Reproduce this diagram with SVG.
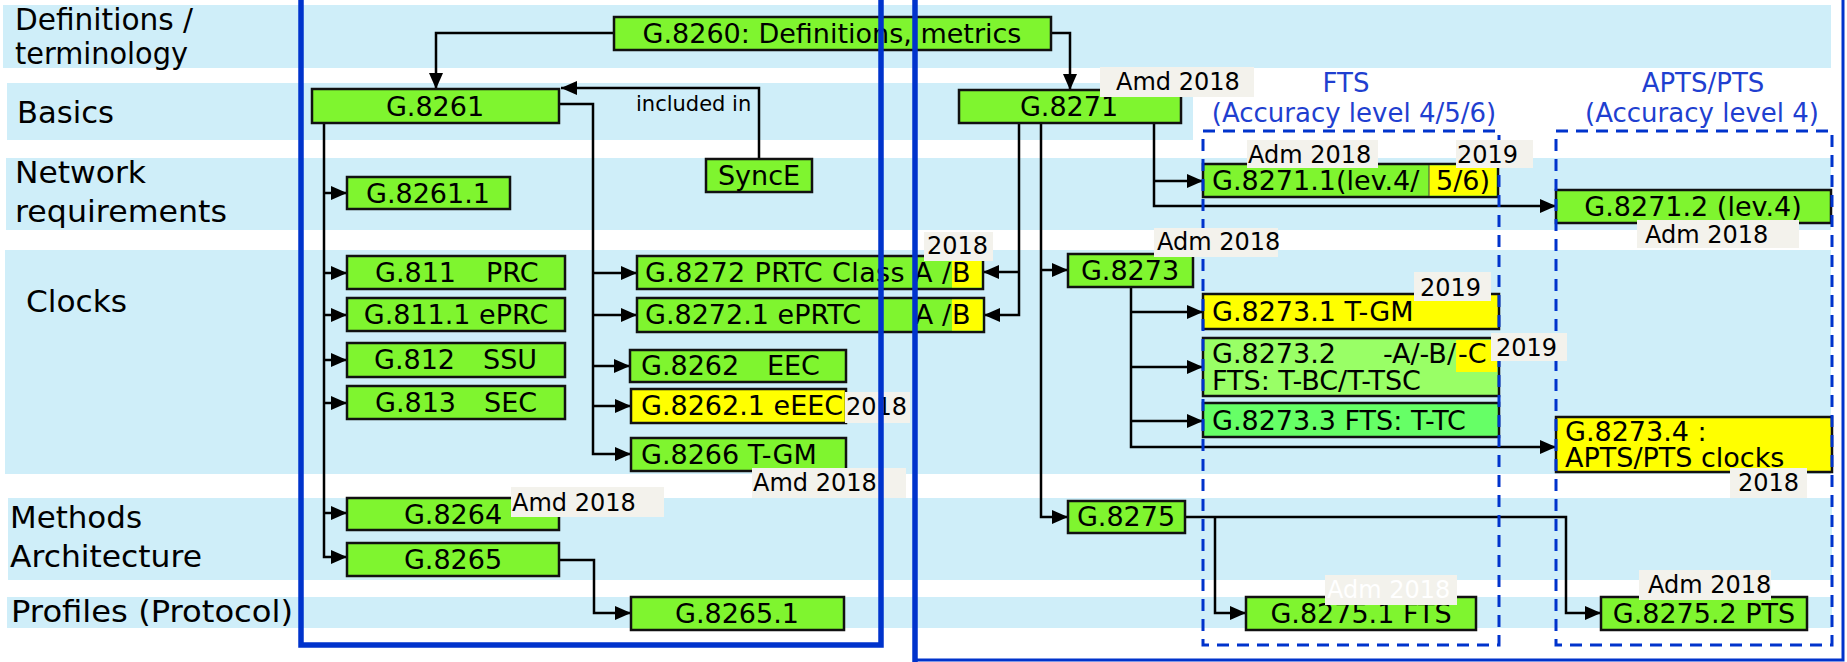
<svg xmlns="http://www.w3.org/2000/svg" width="1847" height="662" viewBox="0 0 1847 662">
<defs>
<style>
.band{fill:#CFEEF9}
.row{font-family:"DejaVu Sans","Liberation Sans",sans-serif;font-size:30px;fill:#000}
.bx{stroke:#111;stroke-width:2.5}
.g{fill:#7FF52F}
.y{fill:#FFFF00}
.lg{fill:#99FF66}
.mg{fill:#66FF66}
.t{font-family:"DejaVu Sans","Liberation Sans",sans-serif;font-size:27px;fill:#000}
.c{text-anchor:middle}
.e{text-anchor:end}
.lb{fill:#F3F2EC}
.lt{font-family:"DejaVu Sans","Liberation Sans",sans-serif;font-size:24px;fill:#000}
.hd{font-family:"DejaVu Sans","Liberation Sans",sans-serif;font-size:26px;fill:#1F3FD0;text-anchor:middle}
.cn{fill:none;stroke:#000;stroke-width:2.5}
.ar{marker-end:url(#arr)}
.pl{fill:none;stroke:#0033CC}
.ds{fill:none;stroke:#0033CC;stroke-width:3;stroke-dasharray:12 8}
</style>
<marker id="arr" markerUnits="userSpaceOnUse" markerWidth="16" markerHeight="14" refX="16" refY="7" orient="auto">
<path d="M0,0 L16,7 L0,14 Z" fill="#000"/>
</marker>
</defs>
<g id="bands">
<rect class="band" x="3" y="5" width="1828" height="63"/>
<rect class="band" x="7" y="83" width="1186" height="57"/>
<rect class="band" x="6" y="158" width="1825" height="72"/>
<rect class="band" x="5" y="250" width="1826" height="224"/>
<rect class="band" x="8" y="498" width="1824" height="82"/>
<rect class="band" x="7" y="597" width="1825" height="31"/>
</g>
<g id="row-labels">
<text class="row" x="15" y="30" textLength="178" lengthAdjust="spacingAndGlyphs">Definitions /</text>
<text class="row" x="15" y="64" textLength="173" lengthAdjust="spacingAndGlyphs">terminology</text>
<text class="row" x="17" y="123" textLength="97" lengthAdjust="spacingAndGlyphs">Basics</text>
<text class="row" x="15" y="183" textLength="131" lengthAdjust="spacingAndGlyphs">Network</text>
<text class="row" x="15" y="222" textLength="212" lengthAdjust="spacingAndGlyphs">requirements</text>
<text class="row" x="26" y="312" textLength="101" lengthAdjust="spacingAndGlyphs">Clocks</text>
<text class="row" x="10" y="528" textLength="132" lengthAdjust="spacingAndGlyphs">Methods</text>
<text class="row" x="10" y="567" textLength="192" lengthAdjust="spacingAndGlyphs">Architecture</text>
<text class="row" x="11" y="622" textLength="282" lengthAdjust="spacingAndGlyphs">Profiles (Protocol)</text>
</g>
<g id="headings">
<text class="hd" x="1346" y="92">FTS</text>
<text class="hd" x="1354" y="122">(Accuracy level 4/5/6)</text>
<text class="hd" x="1703" y="92">APTS/PTS</text>
<text class="hd" x="1702" y="122">(Accuracy level 4)</text>
</g>
<g id="connectors">
<path class="cn ar" d="M614,33 H436 V89"/>
<path class="cn ar" d="M1051,33 H1070 V90"/>
<path class="cn ar" d="M759,159 V88 H561"/>
<text class="lt" style="font-size:21px" x="636" y="111">included in</text>
<path class="cn ar" d="M324,123 V557 H347"/>
<path class="cn ar" d="M324,193 H347"/>
<path class="cn ar" d="M324,273 H347"/>
<path class="cn ar" d="M324,315 H347"/>
<path class="cn ar" d="M324,360 H347"/>
<path class="cn ar" d="M324,403 H347"/>
<path class="cn ar" d="M324,513 H347"/>
<path class="cn ar" d="M559,104 H593 V454 H631"/>
<path class="cn ar" d="M593,273 H637"/>
<path class="cn ar" d="M593,315 H637"/>
<path class="cn ar" d="M593,366 H630"/>
<path class="cn ar" d="M593,406 H631"/>
<path class="cn ar" d="M559,560 H594 V613 H631"/>
<path class="cn ar" d="M1019,123 V315 H984"/>
<path class="cn ar" d="M1019,272 H983"/>
<path class="cn ar" d="M1041,123 V517 H1068"/>
<path class="cn ar" d="M1041,270 H1068"/>
<path class="cn ar" d="M1154,123 V206 H1556"/>
<path class="cn ar" d="M1154,181 H1203"/>
<path class="cn ar" d="M1131,287 V447 H1556"/>
<path class="cn ar" d="M1131,312 H1203"/>
<path class="cn ar" d="M1131,367 H1203"/>
<path class="cn ar" d="M1131,421 H1203"/>
<path class="cn ar" d="M1185,517 H1566 V613 H1601"/>
<path class="cn ar" d="M1215,517 V613 H1246"/>
</g>
<g id="n-g8260"><rect class="bx g" x="614" y="17" width="437" height="33"/><text class="t c" x="832" y="43">G.8260: Definitions, metrics</text></g>
<g id="n-g8261"><rect class="bx g" x="312" y="89" width="247" height="34"/><text class="t c" x="435" y="116">G.8261</text></g>
<g id="n-synce"><rect class="bx g" x="706" y="159" width="106" height="33"/><text class="t c" x="759" y="185">SyncE</text></g>
<g id="n-g82611"><rect class="bx g" x="347" y="177" width="163" height="32"/><text class="t c" x="428" y="203">G.8261.1</text></g>
<g id="n-g811"><rect class="bx g" x="347" y="256" width="218" height="33"/><text class="t" x="375" y="282">G.811</text><text class="t" x="486" y="282">PRC</text></g>
<g id="n-g8111"><rect class="bx g" x="347" y="298" width="218" height="33"/><text class="t c" x="456" y="324">G.811.1 ePRC</text></g>
<g id="n-g812"><rect class="bx g" x="347" y="343" width="218" height="34"/><text class="t" x="374" y="369">G.812</text><text class="t" x="483" y="369">SSU</text></g>
<g id="n-g813"><rect class="bx g" x="347" y="386" width="218" height="33"/><text class="t" x="375" y="412">G.813</text><text class="t" x="484" y="412">SEC</text></g>
<g id="n-g8264"><rect class="bx g" x="347" y="498" width="212" height="32"/><text class="t c" x="453" y="524">G.8264</text></g>
<g id="n-g8265"><rect class="bx g" x="347" y="543" width="212" height="33"/><text class="t c" x="453" y="569">G.8265</text></g>
<g id="n-g82651"><rect class="bx g" x="631" y="597" width="213" height="33"/><text class="t c" x="737" y="623">G.8265.1</text></g>
<g id="n-g8272"><rect class="bx g" x="637" y="256" width="346" height="33"/><rect class="y" x="952" y="257.5" width="29.5" height="30"/><text class="t" x="645" y="282" textLength="306" lengthAdjust="spacing">G.8272 PRTC Class A /</text><text class="t" x="952" y="282">B</text></g>
<g id="n-g82721"><rect class="bx g" x="637" y="298" width="347" height="34"/><rect class="y" x="952" y="299.5" width="30.5" height="31"/><text class="t" x="645" y="324">G.8272.1 ePRTC</text><text class="t e" x="951" y="324">A /</text><text class="t" x="952" y="324">B</text></g>
<g id="n-g8262"><rect class="bx g" x="630" y="350" width="216" height="32"/><text class="t" x="641" y="375">G.8262</text><text class="t" x="767" y="375">EEC</text></g>
<g id="n-g82621"><rect class="bx y" x="631" y="389" width="215" height="34"/><text class="t" x="641" y="415">G.8262.1 eEEC</text></g>
<g id="n-g8266"><rect class="bx g" x="631" y="438" width="215" height="33"/><text class="t" x="641" y="464">G.8266 T-GM</text></g>
<g id="n-g8271"><rect class="bx g" x="959" y="90" width="222" height="33"/><text class="t c" x="1069" y="116">G.8271</text></g>
<g id="n-g8273"><rect class="bx g" x="1068" y="254" width="125" height="33"/><text class="t c" x="1130" y="280">G.8273</text></g>
<g id="n-g8275"><rect class="bx g" x="1068" y="501" width="117" height="32"/><text class="t c" x="1126" y="526">G.8275</text></g>
<g id="n-g82711"><rect class="bx g" x="1203" y="164" width="295" height="33"/><rect class="y" x="1429" y="165.5" width="67.5" height="30"/><line x1="1429" y1="165" x2="1429" y2="196" stroke="#444" stroke-width="1"/><text class="t" x="1212" y="190">G.8271.1(lev.4/</text><text class="t" x="1436" y="190">5/6)</text></g>
<g id="n-g82712"><rect class="bx g" x="1556" y="190" width="275" height="33"/><text class="t c" x="1693" y="216">G.8271.2 (lev.4)</text></g>
<g id="n-g82731"><rect class="bx y" x="1203" y="294" width="296" height="35"/><text class="t" x="1212" y="321">G.8273.1 T-GM</text></g>
<g id="n-g82732"><rect class="bx lg" x="1203" y="338" width="296" height="58"/><rect class="y" x="1456" y="340" width="41" height="32"/><text class="t" x="1212" y="363">G.8273.2</text><text class="t e" x="1456" y="363">-A/-B/</text><text class="t" x="1458" y="363">-C</text><text class="t" x="1212" y="390">FTS: T-BC/T-TSC</text></g>
<g id="n-g82733"><rect class="bx mg" x="1203" y="403" width="296" height="34"/><text class="t" x="1212" y="430">G.8273.3 FTS: T-TC</text></g>
<g id="n-g82734"><rect class="bx y" x="1556" y="417" width="276" height="55"/><text class="t" x="1565" y="441">G.8273.4 :</text><text class="t" x="1565" y="467">APTS/PTS clocks</text></g>
<g id="n-g82751"><rect class="bx g" x="1246" y="597" width="230" height="33"/><text class="t c" x="1361" y="623">G.8275.1 FTS</text></g>
<g id="n-g82752"><rect class="bx g" x="1601" y="597" width="206" height="33"/><text class="t c" x="1704" y="623">G.8275.2 PTS</text></g>
<g id="groups">
<rect class="ds" x="1203" y="131" width="296" height="514"/>
<rect class="ds" x="1556" y="131" width="276" height="514"/>
</g>
<g id="labels">
<rect class="lb" x="1100" y="67" width="154" height="30"/><text class="lt" x="1116" y="90">Amd 2018</text>
<rect class="lb" x="924" y="232" width="69" height="29"/><text class="lt" x="927" y="254">2018</text>
<rect class="lb" x="845" y="392" width="65" height="31"/><text class="lt" x="846" y="415">2018</text>
<rect class="lb" x="752" y="468" width="154" height="30"/><text class="lt" x="753" y="491">Amd 2018</text>
<rect class="lb" x="511" y="487" width="153" height="30"/><text class="lt" x="512" y="511">Amd 2018</text>
<rect class="lb" x="1154" y="228" width="124" height="29"/><text class="lt" x="1157" y="250">Adm 2018</text>
<rect class="lb" x="1247" y="140" width="131" height="28"/><text class="lt" x="1248" y="163">Adm 2018</text>
<rect class="lb" x="1456" y="140" width="77" height="28"/><text class="lt" x="1457" y="163">2019</text>
<rect class="lb" x="1637" y="220" width="162" height="28"/><text class="lt" x="1645" y="243">Adm 2018</text>
<rect class="lb" x="1414" y="272" width="77" height="29"/><text class="lt" x="1420" y="296">2019</text>
<rect class="lb" x="1491" y="333" width="76" height="28"/><text class="lt" x="1496" y="356">2019</text>
<rect class="lb" x="1730" y="468" width="77" height="30"/><text class="lt" x="1738" y="491">2018</text>
<rect class="lb" x="1325" y="575" width="132" height="30"/><text class="lt" x="1327" y="598" style="fill:#fff">Adm 2018</text>
<rect class="lb" x="1639" y="570" width="132" height="30"/><text class="lt" x="1648" y="593">Adm 2018</text>
</g>
<g id="panels">
<path class="pl" d="M301,0 V645 H881 V0" stroke-width="5.5"/>
<path class="pl" d="M915,0 V662" stroke-width="5.5"/>
<path class="pl" d="M915,660 H1843 V0" stroke-width="3"/>
</g>
</svg>
